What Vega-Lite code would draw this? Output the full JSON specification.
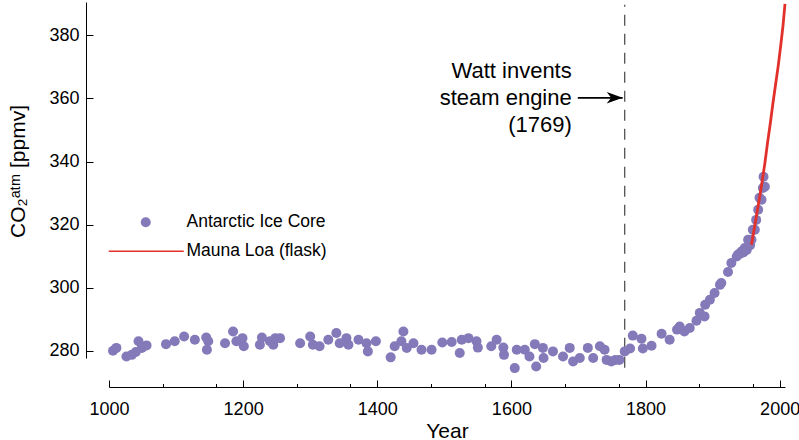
{
  "$schema": "https://vega.github.io/schema/vega-lite/v6.json",
  "width": 676,
  "height": 356,
  "autosize": {"type": "none"},
  "padding": {"left": 109, "top": 2, "right": 14, "bottom": 82},
  "config": {
    "view": {"stroke": null},
    "font": "Liberation Sans",
    "axis": {
      "grid": false,
      "domainColor": "#000000",
      "domainWidth": 1,
      "tickColor": "#000000",
      "tickWidth": 1,
      "labelColor": "#000000",
      "labelFont": "Liberation Sans",
      "labelFontSize": 18,
      "labelFlush": false,
      "labelOverlap": false,
      "titleColor": "#000000",
      "titleFont": "Liberation Sans",
      "titleFontWeight": "normal"
    },
    "legend": {
      "orient": "none",
      "title": null,
      "padding": 0,
      "labelFont": "Liberation Sans",
      "labelFontSize": 17.5,
      "labelColor": "#000000",
      "symbolOffset": 0
    }
  },
  "datasets": {
    "ice": [
      {"year": 1006, "co2": 280.0, "series": "Antarctic Ice Core"},
      {"year": 1011, "co2": 280.9, "series": "Antarctic Ice Core"},
      {"year": 1026, "co2": 278.2, "series": "Antarctic Ice Core"},
      {"year": 1034, "co2": 278.7, "series": "Antarctic Ice Core"},
      {"year": 1040, "co2": 279.6, "series": "Antarctic Ice Core"},
      {"year": 1044, "co2": 283.0, "series": "Antarctic Ice Core"},
      {"year": 1049, "co2": 280.9, "series": "Antarctic Ice Core"},
      {"year": 1056, "co2": 281.7, "series": "Antarctic Ice Core"},
      {"year": 1085, "co2": 282.1, "series": "Antarctic Ice Core"},
      {"year": 1098, "co2": 283.0, "series": "Antarctic Ice Core"},
      {"year": 1112, "co2": 284.5, "series": "Antarctic Ice Core"},
      {"year": 1128, "co2": 283.5, "series": "Antarctic Ice Core"},
      {"year": 1145, "co2": 284.2, "series": "Antarctic Ice Core"},
      {"year": 1148, "co2": 283.0, "series": "Antarctic Ice Core"},
      {"year": 1146, "co2": 280.3, "series": "Antarctic Ice Core"},
      {"year": 1173, "co2": 282.4, "series": "Antarctic Ice Core"},
      {"year": 1185, "co2": 286.1, "series": "Antarctic Ice Core"},
      {"year": 1190, "co2": 283.0, "series": "Antarctic Ice Core"},
      {"year": 1199, "co2": 284.0, "series": "Antarctic Ice Core"},
      {"year": 1201, "co2": 281.4, "series": "Antarctic Ice Core"},
      {"year": 1225, "co2": 281.9, "series": "Antarctic Ice Core"},
      {"year": 1228, "co2": 284.2, "series": "Antarctic Ice Core"},
      {"year": 1240, "co2": 283.0, "series": "Antarctic Ice Core"},
      {"year": 1245, "co2": 281.9, "series": "Antarctic Ice Core"},
      {"year": 1248, "co2": 284.0, "series": "Antarctic Ice Core"},
      {"year": 1255, "co2": 284.0, "series": "Antarctic Ice Core"},
      {"year": 1285, "co2": 282.4, "series": "Antarctic Ice Core"},
      {"year": 1300, "co2": 284.5, "series": "Antarctic Ice Core"},
      {"year": 1304, "co2": 281.9, "series": "Antarctic Ice Core"},
      {"year": 1314, "co2": 281.4, "series": "Antarctic Ice Core"},
      {"year": 1327, "co2": 283.5, "series": "Antarctic Ice Core"},
      {"year": 1339, "co2": 285.6, "series": "Antarctic Ice Core"},
      {"year": 1344, "co2": 282.4, "series": "Antarctic Ice Core"},
      {"year": 1354, "co2": 284.0, "series": "Antarctic Ice Core"},
      {"year": 1357, "co2": 281.9, "series": "Antarctic Ice Core"},
      {"year": 1372, "co2": 283.5, "series": "Antarctic Ice Core"},
      {"year": 1384, "co2": 282.4, "series": "Antarctic Ice Core"},
      {"year": 1386, "co2": 279.8, "series": "Antarctic Ice Core"},
      {"year": 1398, "co2": 283.0, "series": "Antarctic Ice Core"},
      {"year": 1420, "co2": 277.9, "series": "Antarctic Ice Core"},
      {"year": 1426, "co2": 281.4, "series": "Antarctic Ice Core"},
      {"year": 1436, "co2": 283.0, "series": "Antarctic Ice Core"},
      {"year": 1439, "co2": 286.1, "series": "Antarctic Ice Core"},
      {"year": 1444, "co2": 280.9, "series": "Antarctic Ice Core"},
      {"year": 1454, "co2": 282.4, "series": "Antarctic Ice Core"},
      {"year": 1466, "co2": 280.3, "series": "Antarctic Ice Core"},
      {"year": 1481, "co2": 280.3, "series": "Antarctic Ice Core"},
      {"year": 1497, "co2": 282.6, "series": "Antarctic Ice Core"},
      {"year": 1511, "co2": 282.8, "series": "Antarctic Ice Core"},
      {"year": 1523, "co2": 279.3, "series": "Antarctic Ice Core"},
      {"year": 1526, "co2": 283.5, "series": "Antarctic Ice Core"},
      {"year": 1536, "co2": 284.0, "series": "Antarctic Ice Core"},
      {"year": 1548, "co2": 283.0, "series": "Antarctic Ice Core"},
      {"year": 1550, "co2": 281.0, "series": "Antarctic Ice Core"},
      {"year": 1570, "co2": 281.4, "series": "Antarctic Ice Core"},
      {"year": 1578, "co2": 283.5, "series": "Antarctic Ice Core"},
      {"year": 1588, "co2": 281.0, "series": "Antarctic Ice Core"},
      {"year": 1589, "co2": 278.7, "series": "Antarctic Ice Core"},
      {"year": 1605, "co2": 274.5, "series": "Antarctic Ice Core"},
      {"year": 1608, "co2": 280.3, "series": "Antarctic Ice Core"},
      {"year": 1620, "co2": 280.3, "series": "Antarctic Ice Core"},
      {"year": 1627, "co2": 278.2, "series": "Antarctic Ice Core"},
      {"year": 1635, "co2": 282.1, "series": "Antarctic Ice Core"},
      {"year": 1637, "co2": 275.0, "series": "Antarctic Ice Core"},
      {"year": 1647, "co2": 280.9, "series": "Antarctic Ice Core"},
      {"year": 1648, "co2": 277.7, "series": "Antarctic Ice Core"},
      {"year": 1662, "co2": 279.8, "series": "Antarctic Ice Core"},
      {"year": 1677, "co2": 278.2, "series": "Antarctic Ice Core"},
      {"year": 1687, "co2": 280.9, "series": "Antarctic Ice Core"},
      {"year": 1692, "co2": 276.6, "series": "Antarctic Ice Core"},
      {"year": 1702, "co2": 277.7, "series": "Antarctic Ice Core"},
      {"year": 1714, "co2": 280.9, "series": "Antarctic Ice Core"},
      {"year": 1722, "co2": 277.7, "series": "Antarctic Ice Core"},
      {"year": 1732, "co2": 281.4, "series": "Antarctic Ice Core"},
      {"year": 1739, "co2": 280.3, "series": "Antarctic Ice Core"},
      {"year": 1742, "co2": 277.1, "series": "Antarctic Ice Core"},
      {"year": 1749, "co2": 276.6, "series": "Antarctic Ice Core"},
      {"year": 1755, "co2": 277.1, "series": "Antarctic Ice Core"},
      {"year": 1761, "co2": 277.1, "series": "Antarctic Ice Core"},
      {"year": 1769, "co2": 279.8, "series": "Antarctic Ice Core"},
      {"year": 1777, "co2": 280.7, "series": "Antarctic Ice Core"},
      {"year": 1781, "co2": 284.8, "series": "Antarctic Ice Core"},
      {"year": 1794, "co2": 283.8, "series": "Antarctic Ice Core"},
      {"year": 1796, "co2": 280.7, "series": "Antarctic Ice Core"},
      {"year": 1809, "co2": 281.6, "series": "Antarctic Ice Core"},
      {"year": 1824, "co2": 285.4, "series": "Antarctic Ice Core"},
      {"year": 1836, "co2": 283.5, "series": "Antarctic Ice Core"},
      {"year": 1847, "co2": 286.7, "series": "Antarctic Ice Core"},
      {"year": 1851, "co2": 287.7, "series": "Antarctic Ice Core"},
      {"year": 1858, "co2": 286.1, "series": "Antarctic Ice Core"},
      {"year": 1866, "co2": 287.2, "series": "Antarctic Ice Core"},
      {"year": 1876, "co2": 289.5, "series": "Antarctic Ice Core"},
      {"year": 1881, "co2": 292.0, "series": "Antarctic Ice Core"},
      {"year": 1888, "co2": 290.9, "series": "Antarctic Ice Core"},
      {"year": 1889, "co2": 294.6, "series": "Antarctic Ice Core"},
      {"year": 1896, "co2": 296.2, "series": "Antarctic Ice Core"},
      {"year": 1903, "co2": 298.3, "series": "Antarctic Ice Core"},
      {"year": 1911, "co2": 300.9, "series": "Antarctic Ice Core"},
      {"year": 1913, "co2": 301.5, "series": "Antarctic Ice Core"},
      {"year": 1923, "co2": 305.0, "series": "Antarctic Ice Core"},
      {"year": 1928, "co2": 307.8, "series": "Antarctic Ice Core"},
      {"year": 1936, "co2": 309.9, "series": "Antarctic Ice Core"},
      {"year": 1938, "co2": 310.5, "series": "Antarctic Ice Core"},
      {"year": 1941, "co2": 310.8, "series": "Antarctic Ice Core"},
      {"year": 1943, "co2": 311.5, "series": "Antarctic Ice Core"},
      {"year": 1946, "co2": 311.2, "series": "Antarctic Ice Core"},
      {"year": 1948, "co2": 312.6, "series": "Antarctic Ice Core"},
      {"year": 1951, "co2": 312.0, "series": "Antarctic Ice Core"},
      {"year": 1953, "co2": 315.2, "series": "Antarctic Ice Core"},
      {"year": 1956, "co2": 313.5, "series": "Antarctic Ice Core"},
      {"year": 1958, "co2": 315.2, "series": "Antarctic Ice Core"},
      {"year": 1960, "co2": 318.4, "series": "Antarctic Ice Core"},
      {"year": 1963, "co2": 318.4, "series": "Antarctic Ice Core"},
      {"year": 1965, "co2": 321.5, "series": "Antarctic Ice Core"},
      {"year": 1968, "co2": 324.7, "series": "Antarctic Ice Core"},
      {"year": 1970, "co2": 328.5, "series": "Antarctic Ice Core"},
      {"year": 1973, "co2": 327.9, "series": "Antarctic Ice Core"},
      {"year": 1975, "co2": 331.6, "series": "Antarctic Ice Core"},
      {"year": 1976, "co2": 335.2, "series": "Antarctic Ice Core"},
      {"year": 1978, "co2": 332.0, "series": "Antarctic Ice Core"}
    ],
    "flask": [
      {"year": 1958, "co2": 313.6, "series": "Mauna Loa (flask)"},
      {"year": 1962, "co2": 318.5, "series": "Mauna Loa (flask)"},
      {"year": 1966, "co2": 323.5, "series": "Mauna Loa (flask)"},
      {"year": 1970, "co2": 328.5, "series": "Mauna Loa (flask)"},
      {"year": 1974, "co2": 333.8, "series": "Mauna Loa (flask)"},
      {"year": 1978, "co2": 339.5, "series": "Mauna Loa (flask)"},
      {"year": 1982, "co2": 346.0, "series": "Mauna Loa (flask)"},
      {"year": 1986, "co2": 352.0, "series": "Mauna Loa (flask)"},
      {"year": 1990, "co2": 358.5, "series": "Mauna Loa (flask)"},
      {"year": 1994, "co2": 364.5, "series": "Mauna Loa (flask)"},
      {"year": 1998, "co2": 370.5, "series": "Mauna Loa (flask)"},
      {"year": 2002, "co2": 377.5, "series": "Mauna Loa (flask)"},
      {"year": 2005, "co2": 383.0, "series": "Mauna Loa (flask)"},
      {"year": 2008, "co2": 390.0, "series": "Mauna Loa (flask)"}
    ],
    "watt": [
      {"year": 1769, "lo": 274.6, "hi": 389.7}
    ],
    "arrow": [
      {"from": 1699, "to": 1766, "co2": 360.2}
    ],
    "note": [
      {"year": 1690, "co2": 368.6, "label": "Watt invents\nsteam engine\n(1769)"}
    ]
  },
  "layer": [
    {
      "data": {"name": "watt"},
      "mark": {"type": "rule", "strokeDash": [11, 8], "color": "#444444", "strokeWidth": 1.2},
      "encoding": {
        "x": {
          "field": "year", "type": "quantitative",
          "scale": {"domain": [1000, 2008], "nice": false, "zero": false},
          "axis": {
            "orient": "bottom", "offset": 29,
            "values": [1000, 1040, 1080, 1120, 1160, 1160, 1200, 1240, 1280, 1320, 1360, 1360, 1400, 1440, 1480, 1520, 1560, 1560, 1600, 1640, 1680, 1720, 1760, 1760, 1800, 1840, 1880, 1920, 1960, 1960, 2000],
            "tickSize": {"condition": {"test": "abs(datum.value / 200 - round(datum.value / 200)) < 0.01", "value": -7}, "value": -3.5},
            "labelExpr": "abs(datum.value / 200 - round(datum.value / 200)) < 0.01 ? format(datum.value, 'd') : ''",
            "labelOverlap": false, "labelBound": false, "labelFlush": false,
            "labelPadding": 20,
            "title": "Year", "titleFontSize": 21, "titleY": 50, "titleBaseline": "alphabetic"
          }
        },
        "y": {
          "field": "lo", "type": "quantitative",
          "scale": {"domain": [277.7, 390.6], "nice": false, "zero": false},
          "axis": {
            "orient": "left", "offset": 23,
            "values": [280, 285, 290, 295, 300, 305, 310, 315, 320, 325, 330, 335, 340, 345, 350, 355, 360, 365, 370, 375, 380, 385, 390],
            "tickSize": {"condition": {"test": "abs(datum.value / 20 - round(datum.value / 20)) < 0.01", "value": -7}, "value": -3.5},
            "labelExpr": "abs(datum.value / 20 - round(datum.value / 20)) < 0.01 ? datum.label : ''",
            "labelOverlap": false, "labelBound": false,
            "labelPadding": 14,
            "title": "CO₂ᵃᵗᵐ [ppmv]", "titleFontSize": 21, "titleX": -62, "titleY": 169,
            "titleAlign": "center", "titleBaseline": "alphabetic", "titleAngle": -90
          }
        },
        "y2": {"field": "hi"}
      }
    },
    {
      "data": {"name": "ice"},
      "mark": {"type": "point", "filled": true, "size": 100, "opacity": 1},
      "encoding": {
        "x": {"field": "year", "type": "quantitative"},
        "y": {"field": "co2", "type": "quantitative"},
        "fill": {
          "field": "series", "type": "nominal",
          "scale": {"range": ["#8479b9"]},
          "legend": {"legendX": 28, "legendY": 211.5, "labelOffset": 32, "symbolType": "circle", "symbolSize": 100}
        }
      }
    },
    {
      "data": {"name": "flask"},
      "mark": {"type": "line", "strokeWidth": 2.8},
      "encoding": {
        "x": {"field": "year", "type": "quantitative"},
        "y": {"field": "co2", "type": "quantitative"},
        "stroke": {
          "field": "series", "type": "nominal",
          "scale": {"range": ["#e2312b"]},
          "legend": {"legendX": 28.5, "legendY": 240.5, "labelOffset": 31.5, "symbolType": "M-7.5,0H7.5", "symbolSize": 100, "symbolStrokeWidth": 1.5}
        }
      }
    },
    {
      "data": {"name": "arrow"},
      "mark": {"type": "rule", "color": "#000000", "strokeWidth": 1.8},
      "encoding": {
        "x": {"field": "from", "type": "quantitative"},
        "x2": {"field": "to"},
        "y": {"field": "co2", "type": "quantitative"}
      }
    },
    {
      "data": {"name": "arrow"},
      "mark": {"type": "point", "shape": "M0,0L-1,-0.36L-0.72,0L-1,0.36Z", "filled": true, "size": 1024, "color": "#000000", "opacity": 1},
      "encoding": {
        "x": {"field": "to", "type": "quantitative"},
        "y": {"field": "co2", "type": "quantitative"}
      }
    },
    {
      "data": {"name": "note"},
      "mark": {"type": "text", "align": "right", "baseline": "middle", "lineBreak": "\n", "lineHeight": 27, "fontSize": 22, "font": "Liberation Sans", "color": "#000000"},
      "encoding": {
        "x": {"field": "year", "type": "quantitative"},
        "y": {"field": "co2", "type": "quantitative"},
        "text": {"field": "label", "type": "nominal"}
      }
    }
  ]
}
